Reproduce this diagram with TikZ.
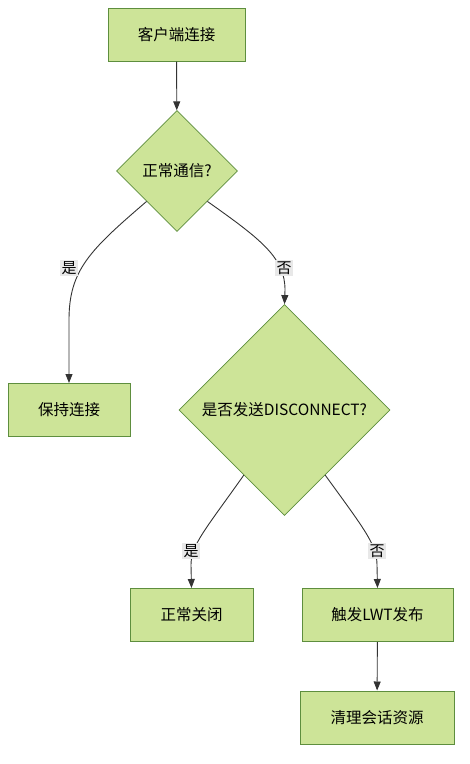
\documentclass[tikz,border=0pt]{standalone}
\usepackage{fontspec}
\setmainfont{Noto Sans CJK SC}
\usetikzlibrary{shapes.geometric,arrows.meta}
\definecolor{nodefill}{HTML}{CDE498}
\definecolor{nodeborder}{HTML}{5E8E3E}
\definecolor{edgecol}{HTML}{333333}
\definecolor{lblfill}{HTML}{E8E8E8}
\begin{document}
\begin{tikzpicture}[x=1pt,y=-1pt,
  every node/.style={font=\fontsize{15.5pt}{18pt}\selectfont},
  procbox/.style={draw=nodeborder,fill=nodefill,line width=1pt,minimum width=#1,minimum height=53pt,inner sep=0pt},
  decision/.style={diamond,draw=nodeborder,fill=nodefill,line width=0.8pt,inner sep=0pt,minimum width=#1,minimum height=#1},
  flow/.style={draw=edgecol,line width=0.9pt,-{Triangle[length=9pt,width=7pt]}},
  lbl/.style={fill=lblfill,inner sep=1.5pt,font=\fontsize{15pt}{17pt}\selectfont}]
\useasboundingbox (0,0) rectangle (470,764);
\node[procbox=137pt] (start) at (176.5,34.5) {客户端连接};
\node[decision=121pt] (d1) at (177,171) {正常通信?};
\node[procbox=122pt] (keep) at (69,410) {保持连接};
\node[decision=211pt] (d2) at (284.5,410) {是否发送DISCONNECT?};
\node[procbox=123pt] (close) at (191.5,615) {正常关闭};
\node[procbox=151pt] (lwt) at (377.5,615) {触发LWT发布};
\node[procbox=154pt] (clean) at (377,717.5) {清理会话资源};

\draw[flow] (start) -- (d1);
\draw[flow] (d1.south west) .. controls (90,250) and (69,270) .. (69,320) -- (keep.north);
\draw[flow] (d1.south east) .. controls (262,240) and (285,258) .. (285,290) -- (d2.north);
\draw[flow] (d2.-122) .. controls (205,530) and (191,545) .. (191,565) -- (close.north);
\draw[flow] (d2.-58) .. controls (365,530) and (377,545) .. (377,565) -- (lwt.north);
\draw[flow] (lwt) -- (clean);

\node[lbl] (l1) at (69,268) {是};
\node[lbl] (l2) at (284,268) {否};
\node[lbl] (l3) at (191,551) {是};
\node[lbl] (l4) at (377,551) {否};
\end{tikzpicture}
\end{document}
